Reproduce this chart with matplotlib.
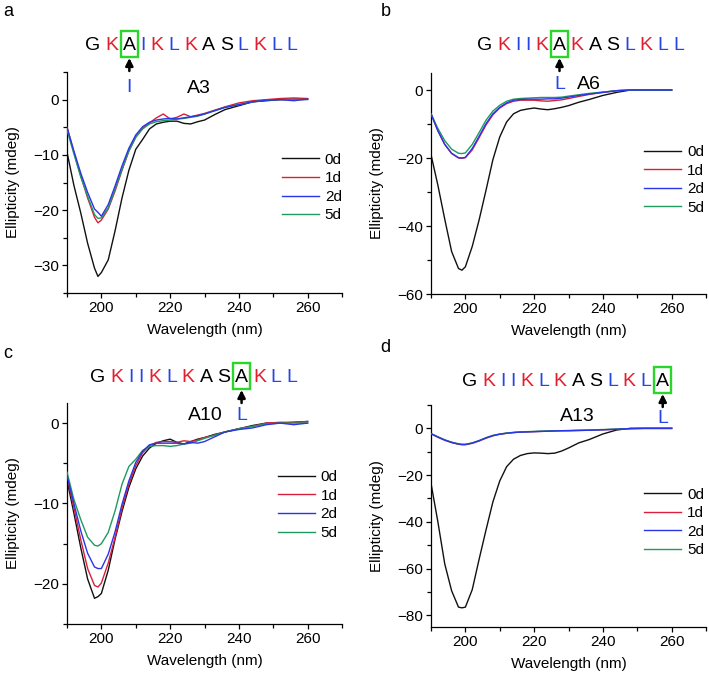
import matplotlib
matplotlib.use('Agg')
import matplotlib.pyplot as plt
from matplotlib.patches import Rectangle, FancyArrowPatch
from matplotlib.ticker import MultipleLocator

plt.rcParams['font.family'] = ['Liberation Sans', 'DejaVu Sans']

W, H = 709, 675

# wavelength grid (nm), shared by all spectra
wavelength = [190, 192, 194, 196, 198, 199, 200, 202, 204, 206, 208, 210, 212, 214, 216,
              218, 220, 222, 224, 226, 228, 230, 233, 236, 240, 244, 248, 252, 256, 260]

days = ['0d', '1d', '2d', '5d']
day_colors = ['#111111', '#d81f3c', '#2a35e8', '#1f9a5f']

# panel a: A3
a3_0d = [-9.5, -15.5, -20.5, -26, -30.5, -32, -31.3, -29, -23.7, -17.8, -12.8, -9, -7.2, -5.3, -4.4,
         -4.1, -3.9, -3.9, -4.3, -4.4, -4, -3.7, -2.7, -1.8, -1.1, -0.4, -0.2, 0, 0.1, 0.1]
a3_1d = [-5, -9.5, -13.8, -17.8, -21.3, -22.3, -21.8, -19.8, -16.5, -12.8, -9.3, -6.8, -5.2, -4.2, -3.3,
         -2.6, -3.5, -3.2, -2.6, -3.1, -2.8, -2.5, -1.9, -1.3, -0.6, -0.2, 0, 0.2, 0.3, 0.2]
a3_2d = [-5, -9.3, -13.3, -16.8, -19.8, -20.4, -21.1, -19, -15.6, -12, -8.8, -6.4, -4.9, -4.1, -3.7,
         -3.5, -3.4, -3.5, -3.3, -3.1, -2.9, -2.6, -2, -1.4, -0.9, -0.4, -0.1, 0, -0.2, 0.1]
a3_5d = [-5.5, -9.8, -14, -17.5, -20.8, -21.5, -21.4, -19.6, -16.2, -12.6, -9.3, -6.8, -5.3, -4.4, -4,
         -3.8, -3.7, -3.5, -3.4, -3.2, -3, -2.6, -2, -1.4, -0.9, -0.4, -0.1, 0, 0, 0]

# panel b: A6
a6_0d = [-19, -28, -38, -47.5, -52.5, -53, -52, -46, -38.2, -29.5, -20.5, -13.8, -9.4, -7, -6,
         -5.6, -5.3, -5.6, -5.8, -5.5, -5.1, -4.6, -3.6, -2.8, -1.6, -0.7, 0, 0, 0, 0]
a6_1d = [-7, -12, -16, -18.7, -20, -20.1, -19.9, -17.6, -14, -10.3, -7.3, -5.3, -4, -3.3, -3,
         -3, -3, -3.2, -3.3, -3.1, -2.9, -2.5, -1.9, -1.3, -0.7, -0.2, 0, 0, 0, 0]
a6_2d = [-7, -12, -16, -18.6, -19.9, -20, -19.8, -17.2, -13.6, -9.9, -7, -5.1, -3.8, -3, -2.8,
         -2.7, -2.7, -2.7, -2.6, -2.6, -2.4, -2.1, -1.6, -1.2, -0.7, -0.2, 0, 0, 0, 0]
a6_5d = [-7, -11.3, -14.9, -17.4, -18.6, -18.7, -18.5, -16, -12.5, -8.9, -6.2, -4.5, -3.3, -2.7, -2.5,
         -2.4, -2.3, -2.2, -2.2, -2.2, -2.1, -1.8, -1.4, -1, -0.6, -0.2, 0, 0, 0, 0]

# panel c: A10
a10_0d = [-7.1, -11.2, -15.5, -19.4, -21.8, -21.6, -21.2, -18.3, -14.4, -11, -8, -5.7, -4.1, -3.1, -2.5,
          -2.2, -2, -2.4, -2.6, -2.3, -2, -1.8, -1.4, -1.1, -0.7, -0.3, 0, 0, 0.1, 0.2]
a10_1d = [-6.7, -10.5, -14.5, -18.1, -20.2, -20.4, -19.9, -17.4, -14.2, -10.6, -7.6, -5.3, -3.7, -2.8, -2.4,
          -2.3, -2.3, -2.4, -2.2, -2.3, -2.1, -1.8, -1.5, -1.1, -0.7, -0.4, 0, 0.1, 0.1, 0.2]
a10_2d = [-6.5, -10, -13.4, -16.2, -17.9, -18.1, -18.1, -16.3, -13.5, -10.1, -7.2, -4.9, -3.5, -2.7, -2.5,
          -2.5, -2.5, -2.5, -2.6, -2.4, -2.5, -2.3, -1.7, -1.1, -0.8, -0.6, -0.2, 0, -0.2, 0]
a10_5d = [-6.1, -9.5, -12, -14.2, -15.2, -15.3, -15, -13.6, -10.9, -7.6, -5.4, -4.5, -3.4, -2.9, -2.8,
          -2.8, -2.9, -2.8, -2.6, -2.5, -2.2, -1.9, -1.5, -1.1, -0.7, -0.4, -0.1, 0, 0, 0]

# panel d: A13
a13_0d = [-23.5, -40, -58, -69.5, -76.5, -76.8, -76.5, -69, -56, -43.5, -31.5, -22.5, -16.4, -13.2, -11.6,
          -10.8, -10.5, -10.6, -10.8, -10.6, -9.7, -8.4, -6.2, -4.8, -2.4, -0.7, 0, 0, 0, 0]
a13_1d = [-2.3, -3.8, -5.1, -6.1, -6.8, -7, -7, -6.4, -5.4, -4.2, -3.2, -2.5, -2.1, -1.8, -1.6,
          -1.5, -1.4, -1.3, -1.2, -1.1, -1, -1, -0.9, -0.8, -0.6, -0.4, -0.1, 0, 0, 0]
a13_2d = [-2.3, -3.7, -5, -6, -6.7, -6.9, -6.9, -6.3, -5.3, -4.1, -3.1, -2.5, -2.1, -1.8, -1.6,
          -1.5, -1.4, -1.3, -1.2, -1.1, -1, -1, -0.9, -0.8, -0.6, -0.4, -0.1, 0, 0, 0]
a13_5d = [-2.2, -3.6, -4.9, -5.9, -6.6, -6.8, -6.8, -6.2, -5.2, -4, -3, -2.4, -2, -1.7, -1.5,
          -1.4, -1.3, -1.2, -1.1, -1.0, -1, -0.9, -0.8, -0.7, -0.5, -0.3, -0.1, 0, 0, 0]

residue_colors = {'K': '#e31e2d', 'I': '#2446e8', 'L': '#2446e8'}

panels = [
    dict(tag='a', name='A3', seq='GKAIKLKASLKLL', mut=2, new='I',
         series=[a3_0d, a3_1d, a3_2d, a3_5d], ylim=(-35, 5), major=10, minor=5,
         rect=(67, 72, 342, 293), seq_x=85, seq_base=50, new_base=92, name_pos=(199, 93),
         tag_pos=(8, 12), leg=(0.782, 0.477)),
    dict(tag='b', name='A6', seq='GKIIKAKASLKLL', mut=5, new='L',
         series=[a6_0d, a6_1d, a6_2d, a6_5d], ylim=(-60, 5), major=20, minor=10,
         rect=(431, 73, 706, 294), seq_x=477, seq_base=50, new_base=89, name_pos=(589, 89),
         tag_pos=(386, 12), leg=(0.775, 0.516)),
    dict(tag='c', name='A10', seq='GKIIKLKASAKLL', mut=9, new='L',
         series=[a10_0d, a10_1d, a10_2d, a10_5d], ylim=(-25, 2.5), major=10, minor=5,
         rect=(67, 403, 342, 624), seq_x=90, seq_base=382, new_base=420, name_pos=(205, 420),
         tag_pos=(8, 353), leg=(0.767, 0.538)),
    dict(tag='d', name='A13', seq='GKIIKLKASLKLA', mut=12, new='L',
         series=[a13_0d, a13_1d, a13_2d, a13_5d], ylim=(-85, 10), major=20, minor=10,
         rect=(431, 405, 706, 627), seq_x=462, seq_base=386, new_base=423, name_pos=(577, 421),
         tag_pos=(385, 348), leg=(0.775, 0.471)),
]

fig = plt.figure(figsize=(W / 100, H / 100), dpi=100)
renderer = fig.canvas.get_renderer()


def fx(x):
    return x / W


def fy(y):
    return 1 - y / H


seq_fs = 14
for p in panels:
    x0, y0, x1, y1 = p['rect']
    ax = fig.add_axes([fx(x0), fy(y1), (x1 - x0) / W, (y1 - y0) / H])
    zorders = [2, 2, 4, 3]
    for vals, lab, col, z in zip(p['series'], days, day_colors, zorders):
        ax.plot(wavelength, vals, color=col, lw=1.0, label=lab, zorder=z)
    ax.set_xlim(190, 270)
    ax.set_ylim(*p['ylim'])
    ax.xaxis.set_major_locator(MultipleLocator(20))
    ax.xaxis.set_minor_locator(MultipleLocator(10))
    ax.yaxis.set_major_locator(MultipleLocator(p['major']))
    ax.yaxis.set_minor_locator(MultipleLocator(p['minor']))
    ax.set_xticks([200, 220, 240, 260])
    ax.spines['top'].set_visible(False)
    ax.spines['right'].set_visible(False)
    for s in ('left', 'bottom'):
        ax.spines[s].set_linewidth(0.9)
    ax.tick_params(which='major', length=3.5, width=0.9, labelsize=11, pad=2)
    ax.tick_params(which='minor', length=3, width=0.9)
    ax.set_xlabel('Wavelength (nm)', fontsize=11)
    ax.set_ylabel('Ellipticity (mdeg)', fontsize=11)
    axh = y1 - y0
    ax.xaxis.set_label_coords(0.5, -30 / axh)
    ax.yaxis.set_label_coords(-47 / (x1 - x0), 0.5)
    ax.legend(loc='center left', bbox_to_anchor=p['leg'], frameon=False, fontsize=11,
              handlelength=2.4, handletextpad=0.4, labelspacing=0.3, borderpad=0,
              borderaxespad=0)

    # peptide sequence with the substituted residue boxed
    gap = 4.8
    x = p['seq_x']
    mut_box = None
    for i, ch in enumerate(p['seq']):
        t = fig.text(fx(x), fy(p['seq_base']), ch, fontsize=seq_fs, ha='left', va='baseline',
                     color=residue_colors.get(ch, 'black'))
        bb = t.get_window_extent(renderer)
        if i == p['mut']:
            mut_box = (x, bb.width)
        x += bb.width + gap
    mx, mw = mut_box
    xc = mx + mw / 2
    bw, bh = 17, 26
    top = p['seq_base'] - 19
    fig.add_artist(Rectangle((fx(xc - bw / 2), fy(top + bh)), bw / W, bh / H,
                             transform=fig.transFigure, fill=False, edgecolor='#2bd62b', lw=1.7))
    fig.add_artist(FancyArrowPatch(
        (fx(xc), fy(top + bh + 14)), (fx(xc), fy(top + bh + 1)), transform=fig.transFigure,
        arrowstyle='-|>', mutation_scale=11, color='black', lw=1.8, shrinkA=0, shrinkB=0))
    fig.text(fx(xc), fy(p['new_base']), p['new'], fontsize=seq_fs, ha='center', va='baseline',
             color=residue_colors[p['new']])
    fig.text(fx(p['name_pos'][0]), fy(p['name_pos'][1]), p['name'], fontsize=seq_fs,
             ha='center', va='baseline')
    fig.text(fx(p['tag_pos'][0]), fy(p['tag_pos'][1]), p['tag'], fontsize=13,
             ha='center', va='center')

fig.savefig('out.png', dpi=100)
